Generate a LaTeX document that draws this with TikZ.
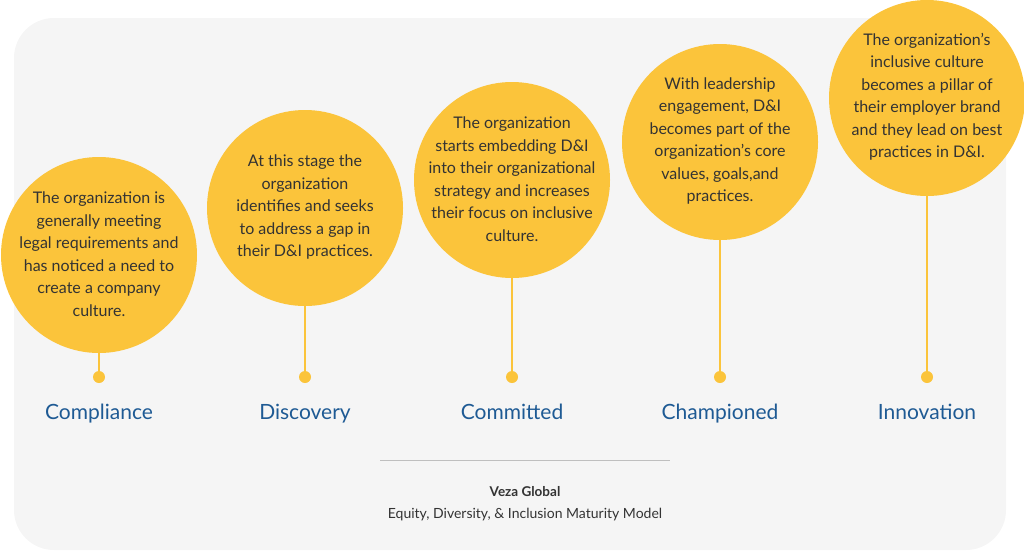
\documentclass[tikz,border=0pt]{standalone}
\usepackage{fontspec}
\setmainfont{Lato}
\definecolor{bg}{HTML}{F5F5F5}
\definecolor{gold}{HTML}{FBC43B}
\definecolor{navy}{HTML}{1E5A94}
\definecolor{txt}{HTML}{333333}
\begin{document}
\begin{tikzpicture}[x=1pt,y=-1pt,
  circ/.style={circle,fill=gold,minimum size=196pt,inner sep=0pt},
  ctext/.style={align=center,font=\fontsize{16}{22.5}\selectfont,text=txt},
  dot/.style={circle,fill=gold,minimum size=12pt,inner sep=0pt},
  stem/.style={gold,line width=2.2pt},
  lab/.style={text=navy,font=\fontsize{21}{24}\selectfont,anchor=base}]
\useasboundingbox (0,0) rectangle (1024,555);
\fill[bg,rounded corners=40pt] (14,18) rectangle (1006,550);
\foreach \i/\x/\y/\t/\l in {
 1/99/255/{The organization is\\generally meeting\\legal requirements and\\has noticed a need to\\create a company\\culture.}/Compliance,
 2/305/208/{At this stage the\\organization\\identifies and seeks\\to address a gap in\\their D\&I practices.}/Discovery,
 3/512/180/{The organization\\starts embedding D\&I\\into their organizational\\strategy and increases\\their focus on inclusive\\culture.}/Committed,
 4/720/142/{With leadership\\engagement, D\&I\\becomes part of the\\organization’s core\\values, goals,and\\practices.}/Championed,
 5/927/98/{The organization’s\\inclusive culture\\becomes a pillar of\\their employer brand\\and they lead on best\\practices in D\&I.}/Innovation}{
 \node[circ] (c\i) at (\x,\y) {};
 \node[ctext] (t\i) at (\x,\y-1) {\t};
 \node[dot] (d\i) at (\x,377) {};
 \draw[stem] (c\i.south) -- (d\i.center);
 \node[lab] (l\i) at (\x,419) {\l};
}
\coordinate (sa) at (380,460); \coordinate (sb) at (670,460);
\draw[black!25,line width=0.8pt] (sa) -- (sb);
\node[text=txt,font=\bfseries\fontsize{13.5}{16}\selectfont] (vg) at (525,492) {Veza Global};
\node[text=txt,font=\fontsize{14}{16}\selectfont] (sub) at (525,515) {Equity, Diversity, \& Inclusion Maturity Model};
\end{tikzpicture}
\end{document}
